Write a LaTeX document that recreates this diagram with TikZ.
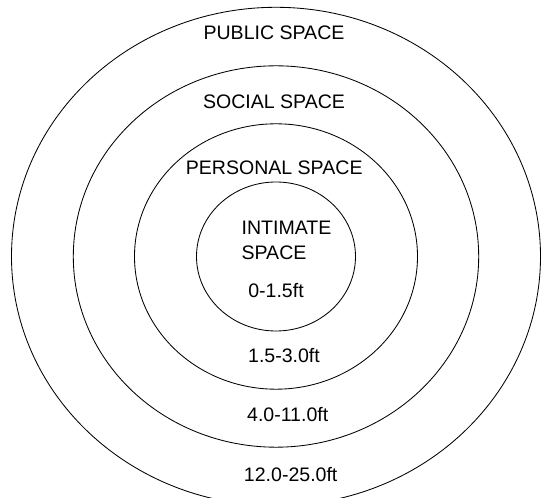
\documentclass[tikz,border=0pt]{standalone}
\usepackage{fontspec}
\setmainfont{Liberation Sans}
\usetikzlibrary{positioning}

\begin{document}
\begin{tikzpicture}[x=0.025cm, y=-0.025cm, every node/.style={font=\fontsize{13.9}{17.8}\selectfont, inner sep=0pt}]
  % Page frame (outer ring runs off the bottom)
  \clip (0,0) rectangle (542,498);

  % Zone rings
  \draw[line width=0.6pt] (276,256.5) ellipse [x radius=264.5, y radius=249.2];
  \draw[line width=0.6pt] (276,256.5) ellipse [x radius=202.7, y radius=190.7];
  \draw[line width=0.6pt] (276,256.5) ellipse [x radius=141.5, y radius=132.7];
  \draw[line width=0.6pt] (276,256.5) ellipse [x radius=79.5, y radius=74.5];

  % Zone names
  \node (public) at (274, 32.8) {PUBLIC SPACE};
  \node (social) at (274, 101.7) {SOCIAL SPACE};
  \node (personal) at (274.2, 167.3) {PERSONAL SPACE};
  \node[align=left] (intimate) at (286.5, 240.5) {INTIMATE\\SPACE};

  % Distances
  \node (intdist) at (276, 290.5) {0-1.5ft};
  \node (perdist) at (284, 355.7) {1.5-3.0ft};
  \node (socdist) at (287.7, 415) {4.0-11.0ft};
  \node (pubdist) at (290.7, 474.3) {12.0-25.0ft};
\end{tikzpicture}
\end{document}
